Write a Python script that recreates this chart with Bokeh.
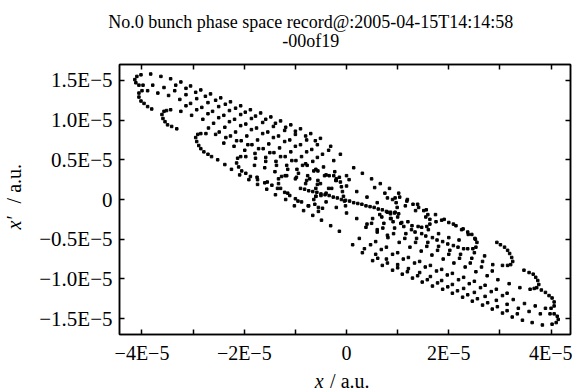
import json
import numpy as np
from bokeh.plotting import figure
from bokeh.models import (Range1d, FixedTicker, LinearAxis, Label,
                          CustomJSTickFormatter, ColumnDataSource)
from bokeh.embed import file_html
from bokeh.resources import INLINE

UNIT = 1e-5  # all values below are in units of 1E-5 a.u.

title_text = "No.0 bunch phase space record@:2005-04-15T14:14:58\n-00of19"

x_ticks = [-4, -3, -2, -1, 0, 1, 2, 3, 4]
x_tick_labels = ["\u22124E\u22125", "", "\u22122E\u22125", "", "0", "", "2E\u22125", "", "4E\u22125"]
y_ticks = [-1.5, -1.0, -0.5, 0, 0.5, 1.0, 1.5]
y_tick_labels = ["\u22121.5E\u22125", "\u22121.0E\u22125", "\u22120.5E\u22125", "0",
                 "0.5E\u22125", "1.0E\u22125", "1.5E\u22125"]

# upper-left filaments (hooks + rows)
ul_x = [
    -4.02, -4.10, -4.14, -4.12, -4.06,
    -3.83, -3.63, -3.44, -3.24, -3.05, -2.85, -2.66, -2.46, -2.27, -2.07, -1.88, -1.68, -1.48, -1.29, -1.09, -0.90, -0.70, -0.51, -0.31, -0.12,
    -3.34, -3.14, -2.95, -2.76, -2.56, -2.37, -2.17, -1.98, -1.78, -1.58, -1.39, -1.19, -1.00, -0.80, -0.61,
    -3.98, -3.79, -3.57, -3.36, -3.14, -2.93, -2.71, -2.50, -2.29, -2.07, -1.86, -1.64, -1.43, -1.21, -1.00, -0.78, -0.57, -0.35,
    -4.00, -4.06, -4.06, -4.02, -3.96, -3.89, -3.81,
    -3.89, -3.69, -3.48, -3.26, -3.05, -2.83, -2.62, -2.40, -2.19, -1.97, -1.76, -1.54, -1.33, -1.11, -0.90, -0.68, -0.47, -0.25,
    -3.14, -2.93, -2.71, -2.50, -2.29, -2.07, -1.86, -1.64, -1.43, -1.21, -1.00, -0.78, -0.57,
    -3.52, -3.57, -3.61, -3.59, -3.55, -3.50, -3.42, -3.32,
    -3.44, -3.24, -3.03, -2.81, -2.60, -2.38, -2.17, -1.95, -1.74, -1.52, -1.31, -1.09, -0.88, -0.66, -0.45, -0.23,
    -2.70, -2.49, -2.27, -2.06, -1.85, -1.63, -1.42, -1.20, -0.99, -0.77, -0.56, -0.34,
    -2.85, -2.91, -2.95, -2.93, -2.89, -2.85, -2.79, -2.71, -2.64,
    -2.75, -2.56, -2.36, -2.15, -1.93, -1.72, -1.50, -1.29, -1.07, -0.86, -0.64, -0.43, -0.21,
    -2.40, -2.20, -1.99, -1.79, -1.58, -1.38, -1.17, -0.97, -0.76, -0.56,
    -2.52, -2.38, -2.25, -2.09, -1.91, -1.74, -1.56, -1.39, -1.19, -1.02, -0.84, -0.66, -0.49, -0.31, -0.14,
    -2.07, -2.13, -2.15, -2.11, -2.05, -1.97, -1.88, -1.74, -1.60, -1.46,
    -1.97, -1.78, -1.58, -1.37, -1.15, -0.94, -0.72, -0.51, -0.29,
    -1.80, -1.60, -1.40, -1.20, -1.00, -0.80, -0.60, -0.40,
    -1.75, -1.55, -1.35, -1.15, -0.95, -0.75, -0.55,
    -1.27, -1.33, -1.33, -1.29, -1.21, -1.11, -1.00, -0.88, -0.74,
    -1.17, -0.98, -0.78, -0.57, -0.35,
]
ul_y = [
    1.57, 1.55, 1.51, 1.47, 1.44,
    1.58, 1.55, 1.52, 1.48, 1.43, 1.38, 1.33, 1.28, 1.23, 1.18, 1.13, 1.09, 1.04, 0.99, 0.94, 0.89, 0.83, 0.77, 0.67, 0.57,
    1.44, 1.40, 1.35, 1.30, 1.25, 1.20, 1.15, 1.10, 1.05, 1.01, 0.96, 0.91, 0.86, 0.80, 0.74,
    1.44, 1.44, 1.41, 1.37, 1.32, 1.27, 1.22, 1.17, 1.12, 1.07, 1.02, 0.97, 0.92, 0.87, 0.82, 0.75, 0.69, 0.62,
    1.37, 1.34, 1.29, 1.24, 1.21, 1.17, 1.14,
    1.37, 1.34, 1.31, 1.26, 1.21, 1.16, 1.11, 1.06, 1.01, 0.95, 0.90, 0.85, 0.80, 0.75, 0.69, 0.63, 0.57, 0.49,
    1.18, 1.13, 1.08, 1.03, 0.98, 0.93, 0.88, 0.83, 0.78, 0.73, 0.67, 0.60, 0.53,
    1.12, 1.11, 1.07, 1.02, 0.98, 0.94, 0.92, 0.89,
    1.13, 1.11, 1.06, 1.01, 0.96, 0.91, 0.85, 0.80, 0.75, 0.70, 0.65, 0.60, 0.54, 0.48, 0.41, 0.35,
    0.90, 0.85, 0.80, 0.74, 0.69, 0.64, 0.59, 0.54, 0.49, 0.43, 0.36, 0.30,
    0.83, 0.82, 0.78, 0.73, 0.68, 0.64, 0.60, 0.57, 0.54,
    0.83, 0.82, 0.78, 0.74, 0.69, 0.64, 0.59, 0.54, 0.49, 0.43, 0.36, 0.30, 0.24,
    0.71, 0.67, 0.62, 0.58, 0.53, 0.48, 0.43, 0.38, 0.30, 0.24,
    0.50, 0.44, 0.38, 0.31, 0.25, 0.19, 0.13, 0.06, 0.00, -0.08, -0.14, -0.20, -0.26, -0.33, -0.40,
    0.54, 0.52, 0.46, 0.41, 0.36, 0.33, 0.29, 0.25, 0.21, 0.18,
    0.54, 0.52, 0.48, 0.43, 0.38, 0.33, 0.26, 0.20, 0.14,
    0.43, 0.40, 0.35, 0.30, 0.26, 0.20, 0.14, 0.08,
    0.28, 0.22, 0.14, 0.08, -0.02, -0.08, -0.15,
    0.29, 0.26, 0.20, 0.14, 0.09, 0.05, 0.01, -0.03, -0.08,
    0.30, 0.28, 0.24, 0.19, 0.14,
]

# lower-right filaments
lr_x = [
    4.02, 4.10, 4.14, 4.12, 4.06,
    3.83, 3.63, 3.44, 3.24, 3.05, 2.85, 2.66, 2.46, 2.27, 2.07, 1.88, 1.68, 1.48, 1.29, 1.09, 0.90, 0.70, 0.51, 0.31, 0.12,
    3.34, 3.14, 2.95, 2.76, 2.56, 2.37, 2.17, 1.98, 1.78, 1.58, 1.39, 1.19, 1.00, 0.80, 0.61,
    3.98, 3.79, 3.57, 3.36, 3.14, 2.93, 2.71, 2.50, 2.29, 2.07, 1.86, 1.64, 1.43, 1.21, 1.00, 0.78, 0.57, 0.35,
    4.00, 4.06, 4.06, 4.02, 3.96, 3.89, 3.81,
    3.89, 3.69, 3.48, 3.26, 3.05, 2.83, 2.62, 2.40, 2.19, 1.97, 1.76, 1.54, 1.33, 1.11, 0.90, 0.68, 0.47, 0.25,
    3.14, 2.93, 2.71, 2.50, 2.29, 2.07, 1.86, 1.64, 1.43, 1.21, 1.00, 0.78, 0.57,
    3.67, 3.72, 3.76, 3.74, 3.70, 3.65, 3.57, 3.47,
    3.59, 3.39, 3.18, 2.96, 2.75, 2.53, 2.32, 2.10, 1.89, 1.67, 1.46, 1.24, 1.03, 0.81, 0.60, 0.38,
    2.85, 2.64, 2.42, 2.21, 2.00, 1.78, 1.57, 1.35, 1.14, 0.92, 0.71, 0.49,
    3.15, 3.21, 3.25, 3.23, 3.19, 3.15, 3.09, 3.01, 2.94,
    3.05, 2.86, 2.66, 2.45, 2.23, 2.02, 1.80, 1.59, 1.37, 1.16, 0.94, 0.73, 0.51,
    2.70, 2.50, 2.29, 2.09, 1.88, 1.68, 1.47, 1.27, 1.06, 0.86,
    2.52, 2.38, 2.25, 2.09, 1.91, 1.74, 1.56, 1.39, 1.19, 1.02, 0.84, 0.66, 0.49, 0.31, 0.14,
    2.47, 2.53, 2.55, 2.51, 2.45, 2.37, 2.28, 2.14, 2.00, 1.86,
    2.37, 2.18, 1.98, 1.77, 1.55, 1.34, 1.12, 0.91, 0.69,
    2.20, 2.00, 1.80, 1.60, 1.40, 1.20, 1.00, 0.80,
    1.75, 1.55, 1.35, 1.15, 0.95, 0.75, 0.55,
    1.57, 1.63, 1.63, 1.59, 1.51, 1.41, 1.30, 1.18, 1.04,
    1.47, 1.28, 1.08, 0.87, 0.65,
]
lr_y = [
    -1.57, -1.55, -1.51, -1.47, -1.44,
    -1.58, -1.55, -1.52, -1.48, -1.43, -1.38, -1.33, -1.28, -1.23, -1.18, -1.13, -1.09, -1.04, -0.99, -0.94, -0.89, -0.83, -0.77, -0.67, -0.57,
    -1.44, -1.40, -1.35, -1.30, -1.25, -1.20, -1.15, -1.10, -1.05, -1.01, -0.96, -0.91, -0.86, -0.80, -0.74,
    -1.44, -1.44, -1.41, -1.37, -1.32, -1.27, -1.22, -1.17, -1.12, -1.07, -1.02, -0.97, -0.92, -0.87, -0.82, -0.75, -0.69, -0.62,
    -1.37, -1.34, -1.29, -1.24, -1.21, -1.17, -1.14,
    -1.37, -1.34, -1.31, -1.26, -1.21, -1.16, -1.11, -1.06, -1.01, -0.95, -0.90, -0.85, -0.80, -0.75, -0.69, -0.63, -0.57, -0.49,
    -1.18, -1.13, -1.08, -1.03, -0.98, -0.93, -0.88, -0.83, -0.78, -0.73, -0.67, -0.60, -0.53,
    -1.12, -1.11, -1.07, -1.02, -0.98, -0.94, -0.92, -0.89,
    -1.13, -1.11, -1.06, -1.01, -0.96, -0.91, -0.85, -0.80, -0.75, -0.70, -0.65, -0.60, -0.54, -0.48, -0.41, -0.35,
    -0.90, -0.85, -0.80, -0.74, -0.69, -0.64, -0.59, -0.54, -0.49, -0.43, -0.36, -0.30,
    -0.83, -0.82, -0.78, -0.73, -0.68, -0.64, -0.60, -0.57, -0.54,
    -0.83, -0.82, -0.78, -0.74, -0.69, -0.64, -0.59, -0.54, -0.49, -0.43, -0.36, -0.30, -0.24,
    -0.71, -0.67, -0.62, -0.58, -0.53, -0.48, -0.43, -0.38, -0.30, -0.24,
    -0.50, -0.44, -0.38, -0.31, -0.25, -0.19, -0.13, -0.06, 0.00, 0.08, 0.14, 0.20, 0.26, 0.33, 0.40,
    -0.62, -0.60, -0.54, -0.49, -0.44, -0.41, -0.37, -0.33, -0.29, -0.26,
    -0.62, -0.60, -0.56, -0.51, -0.46, -0.41, -0.34, -0.28, -0.22,
    -0.51, -0.48, -0.43, -0.38, -0.34, -0.28, -0.22, -0.16,
    -0.28, -0.22, -0.14, -0.08, 0.02, 0.08, 0.15,
    -0.34, -0.31, -0.25, -0.19, -0.14, -0.10, -0.06, -0.02, 0.03,
    -0.35, -0.33, -0.29, -0.24, -0.19,
]

# dense core
core_x = [
    -0.90, -0.82, -0.74, -0.66, -0.58, -0.50, -0.42, -0.34, -0.26, -0.18, -0.10, -0.02, 0.06, 0.14, 0.22, 0.30, 0.38, 0.46, 0.54, 0.62, 0.70, 0.78, 0.86, 0.94, 1.02,
    -0.14, -0.12, -0.10, -0.08, -0.06, -0.04, -0.02, -0.25, -0.20, 0.00, 0.05,
    0.80, 0.90, 0.97, 0.99, 0.95, 0.86,
    -0.50, -0.60, -0.64, -0.62, -0.55, -0.47,
    -0.80, -0.60, -0.40, -0.20, 0.00, 0.20, 0.40, 0.60,
    -0.60, -0.40, -0.20, 0.00, 0.20, 0.40, 0.60, 0.80,
]
core_y = [
    0.14, 0.13, 0.11, 0.10, 0.09, 0.07, 0.06, 0.05, 0.03, 0.02, 0.00, -0.01, -0.02, -0.04, -0.05, -0.06, -0.08, -0.09, -0.10, -0.12, -0.13, -0.15, -0.16, -0.17, -0.18,
    0.28, 0.22, 0.16, 0.10, 0.04, -0.02, -0.08, 0.30, 0.26, 0.30, 0.25,
    0.02, 0.00, -0.04, -0.10, -0.16, -0.18,
    0.05, 0.04, 0.00, -0.06, -0.10, -0.11,
    0.45, 0.38, 0.31, 0.24, 0.17, 0.10, 0.03, -0.04,
    0.04, -0.03, -0.10, -0.17, -0.24, -0.31, -0.38, -0.45,
]

FONT = "Liberation Serif"

def pair(xs, ys):
    n = min(len(xs), len(ys))
    return list(xs[:n]), list(ys[:n])

xs, ys = [], []
for a, b in ((ul_x, ul_y), (lr_x, lr_y), (core_x, core_y)):
    a2, b2 = pair(a, b)
    xs += a2
    ys += b2
src = ColumnDataSource(dict(x=np.array(xs) * UNIT, y=np.array(ys) * UNIT))

p = figure(width=572, height=391, output_backend="svg", toolbar_location=None,
           title=None,
           x_range=Range1d(-4.44 * UNIT, 4.38 * UNIT),
           y_range=Range1d(-1.70 * UNIT, 1.70 * UNIT),
           min_border_left=119, min_border_right=2, min_border_top=64, min_border_bottom=57,
           background_fill_color="white", border_fill_color="white")
p.grid.visible = False
p.outline_line_color = "black"
p.outline_line_width = 1.5

p.scatter("x", "y", source=src, marker="square", size=2.5, color="black")

def fmt(ticks, labels):
    m = {("%g" % t): s for t, s in zip(ticks, labels)}
    code = ("const m = %s; const k = String(Math.round(tick / %g * 100) / 100);"
            " return (k in m) ? m[k] : '';") % (json.dumps(m), UNIT)
    return CustomJSTickFormatter(code=code)

xt = FixedTicker(ticks=[t * UNIT for t in x_ticks], minor_ticks=[])
yt = FixedTicker(ticks=[t * UNIT for t in y_ticks], minor_ticks=[])

def style(ax, size):
    ax.axis_line_color = "black"
    ax.axis_line_width = 1.5
    ax.major_tick_line_color = "black"
    ax.major_tick_line_width = 1.5
    ax.major_tick_in = 5
    ax.major_tick_out = 0
    ax.minor_tick_line_color = None
    ax.major_label_text_font = FONT
    ax.major_label_text_color = "black"
    ax.major_label_text_font_size = size
    ax.major_label_standoff = 7 if size != "0px" else 0

xa = p.xaxis[0]
xa.ticker = xt
xa.formatter = fmt(x_ticks, x_tick_labels)
style(xa, "20px")
ya = p.yaxis[0]
ya.ticker = yt
ya.formatter = fmt(y_ticks, y_tick_labels)
style(ya, "21px")

top = LinearAxis(ticker=xt, formatter=fmt(x_ticks, [""] * len(x_ticks)))
style(top, "0px")
p.add_layout(top, "above")
right = LinearAxis(ticker=yt, formatter=fmt(y_ticks, [""] * len(y_ticks)))
style(right, "0px")
p.add_layout(right, "right")

def lab(side, x, y, text, size, style_="normal", align="left", angle=0.0, lh=1.2):
    p.add_layout(Label(x=x * UNIT, y=y * UNIT, text=text, text_font=FONT,
                       text_font_size=size, text_font_style=style_,
                       text_align=align, text_baseline="alphabetic",
                       text_line_height=lh,
                       angle=angle, text_color="black"), side)

# Labels are positioned in data units; the side each one is attached to only
# keeps it from being clipped to the frame.
lab("above", -0.70, 2.115, title_text, "18px", align="center", lh=0.92)
lab("above", -6.512, -0.379, "x\u2032", "20px", style_="italic", angle=np.pi / 2)
lab("left", -6.512, -0.049, "/ a.u.", "20px", angle=np.pi / 2)
lab("left", -0.623, -2.285, "x", "20px", style_="italic")
lab("below", -0.321, -2.285, "/ a.u.", "20px")

open("out.html", "w").write(file_html(p, INLINE))
